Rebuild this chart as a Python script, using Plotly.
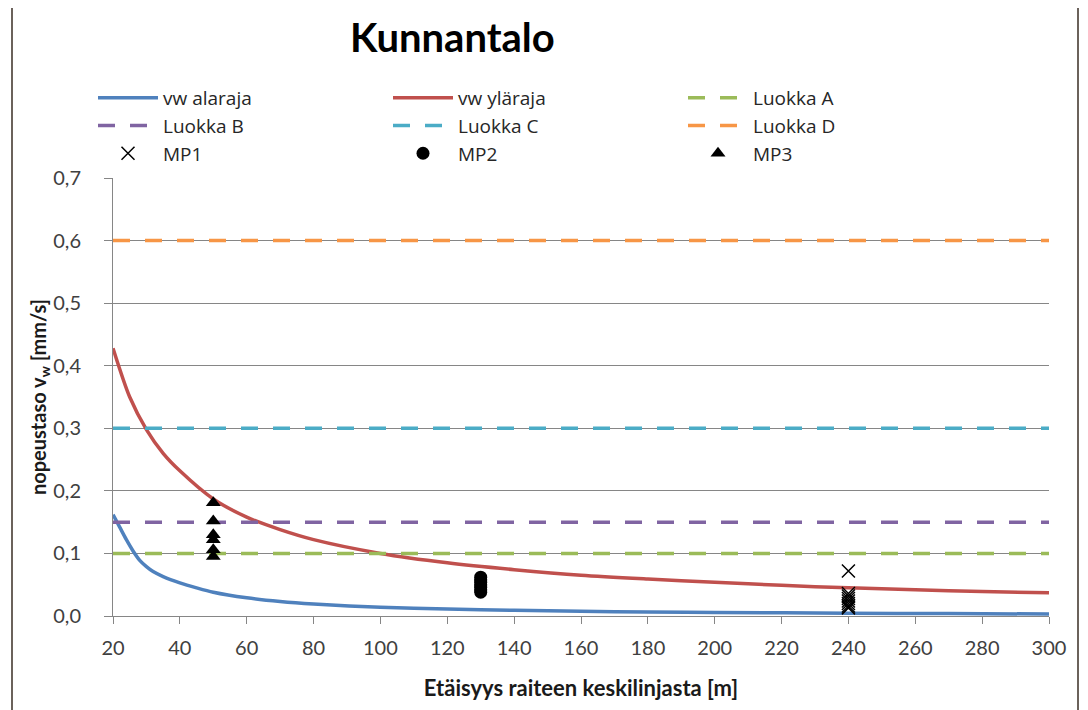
import plotly.graph_objects as go

# ---- data ----
upper_x = [20, 25, 30, 35, 40, 50, 60, 70, 80, 100, 120, 140, 160, 180, 200, 220, 240, 260, 280, 300]
upper_y = [0.428, 0.350, 0.298, 0.260, 0.232, 0.187, 0.158, 0.138, 0.122, 0.100, 0.085, 0.074,
           0.065, 0.059, 0.054, 0.049, 0.045, 0.042, 0.039, 0.037]

lower_x = [20, 22, 24, 26, 28, 30, 32, 35, 40, 45, 50, 60, 70, 80, 100, 120, 140, 160, 180, 200, 240, 270, 300]
lower_y = [0.162, 0.142, 0.122, 0.104, 0.089, 0.079, 0.071, 0.063, 0.053, 0.045, 0.038, 0.029,
           0.023, 0.019, 0.014, 0.011, 0.009, 0.0075, 0.0065, 0.0057, 0.0045, 0.0038, 0.0032]

class_x = [20, 300]
class_names = ["Luokka A", "Luokka B", "Luokka C", "Luokka D"]
class_levels = [0.10, 0.15, 0.30, 0.60]
class_colors = ["#9BBB59", "#8064A2", "#4BACC6", "#F79646"]

mp1_x = [240, 240, 240, 240, 240, 240, 240, 240]
mp1_y = [0.072, 0.036, 0.032, 0.028, 0.024, 0.020, 0.016, 0.013]
mp2_x = [130, 130, 130, 130, 130, 130, 130]
mp2_y = [0.062, 0.058, 0.054, 0.050, 0.046, 0.042, 0.038]
mp3_x = [50, 50, 50, 50, 50, 50]
mp3_y = [0.181, 0.152, 0.130, 0.122, 0.106, 0.095]

x_ticks = list(range(20, 301, 20))
y_ticks = [0.0, 0.1, 0.2, 0.3, 0.4, 0.5, 0.6, 0.7]

FONT = "Lato"

fig = go.Figure()
fig.add_trace(go.Scatter(x=lower_x, y=lower_y, mode="lines", name="vw alaraja",
                         line=dict(color="#4F81BD", width=3.5, shape="spline", smoothing=0.8)))
fig.add_trace(go.Scatter(x=upper_x, y=upper_y, mode="lines", name="vw yläraja",
                         line=dict(color="#C0504D", width=3.5, shape="spline", smoothing=0.8)))
for name, lvl, col in zip(class_names, class_levels, class_colors):
    fig.add_trace(go.Scatter(x=class_x, y=[lvl, lvl], mode="lines", name=name,
                             line=dict(color=col, width=3.5, dash="17px,15px")))
fig.add_trace(go.Scatter(x=mp1_x, y=mp1_y, mode="markers", name="MP1",
                         marker=dict(symbol="x-thin", size=13, color="black",
                                     line=dict(color="black", width=1.5))))
fig.add_trace(go.Scatter(x=mp2_x, y=mp2_y, mode="markers", name="MP2",
                         marker=dict(symbol="circle", size=13, color="black")))
fig.add_trace(go.Scatter(x=mp3_x, y=mp3_y, mode="markers", name="MP3",
                         marker=dict(symbol="triangle-up", size=13, color="black")))

# page has an 8px body margin: figure coords = page coords - 8
OFF = 8
W, H = 1080, 702
L = 113 - OFF
R = W - (1049 - OFF)
T = 178 - OFF
B = H - (616 - OFF)
pw, ph = W - L - R, H - T - B


def px_to_paper_x(px):
    return (px - OFF - L) / pw


def px_to_paper_y(py):
    return 1 - (py - OFF - T) / ph


fig.update_layout(
    width=W, height=H,
    margin=dict(l=L, r=R, t=T, b=B, autoexpand=False),
    paper_bgcolor="white", plot_bgcolor="white",
    separators=", ",
    font=dict(family=FONT, size=20, color="#404040"),
    showlegend=True,
    legend=dict(orientation="h", x=px_to_paper_x(93), xanchor="left",
                y=px_to_paper_y(79), yanchor="top",
                entrywidth=220, entrywidthmode="pixels",
                font=dict(family="Open Sans", size=19, color="#262626"),
                bgcolor="rgba(0,0,0,0)", itemwidth=60, traceorder="normal"),
    xaxis=dict(range=[20, 300], tickvals=x_ticks, showgrid=False, zeroline=False,
               showline=True, linecolor="#868686", linewidth=1,
               ticks="outside", ticklen=7, tickcolor="#868686",
               ticklabelstandoff=7,
               tickfont=dict(family=FONT, size=20, color="#404040"),
               title=dict(text="<b>Etäisyys raiteen keskilinjasta [m]</b>",
                          font=dict(family=FONT, size=22, color="#1a1a1a"), standoff=22)),
    yaxis=dict(range=[0, 0.7], tickvals=y_ticks, tickformat=".1f", showgrid=True,
               gridcolor="#868686", gridwidth=1, zeroline=False,
               showline=True, linecolor="#868686", linewidth=1,
               ticks="outside", ticklen=8, tickcolor="#868686",
               ticklabelstandoff=19,
               tickfont=dict(family=FONT, size=20, color="#404040"),
               title=dict(text="<b>nopeustaso v<sub>w</sub> [mm/s]</b>",
                          font=dict(family=FONT, size=20, color="#1a1a1a"), standoff=1)),
    annotations=[dict(text="<b>Kunnantalo</b>", x=px_to_paper_x(452), y=px_to_paper_y(37),
                      xref="paper", yref="paper", xanchor="center", yanchor="middle",
                      showarrow=False, font=dict(family=FONT, size=40, color="black"))],
    shapes=[dict(type="rect", xref="paper", yref="paper",
                 x0=px_to_paper_x(12), x1=px_to_paper_x(1078),
                 y0=px_to_paper_y(730), y1=px_to_paper_y(5),
                 line=dict(color="#6b625b", width=2), fillcolor="rgba(0,0,0,0)")],
)

fig.write_html("out.html")
